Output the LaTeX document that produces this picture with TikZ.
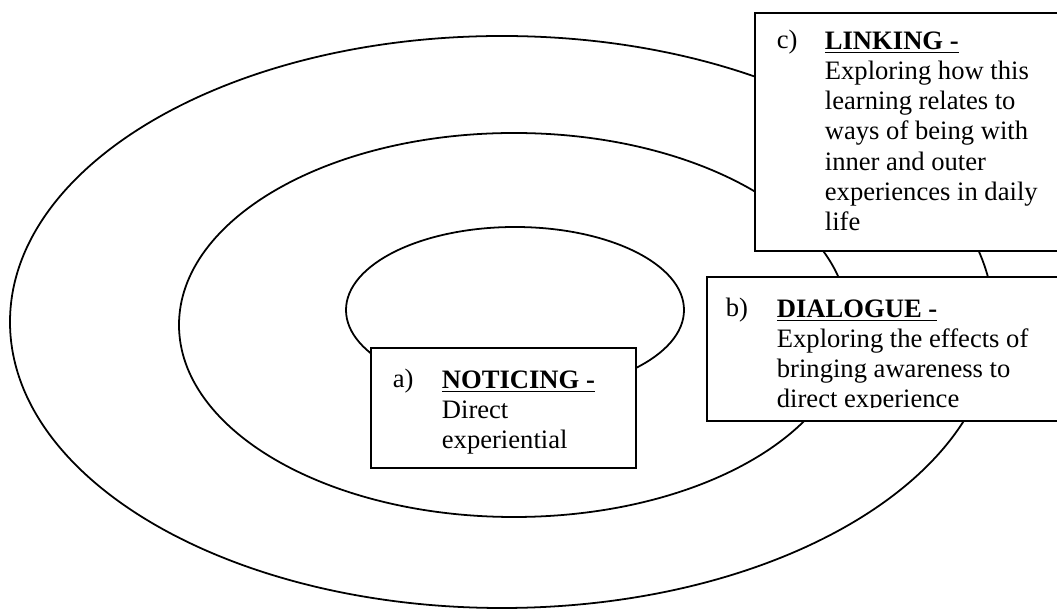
\documentclass[tikz,border=0pt]{standalone}
\usepackage{fontspec}
\setmainfont{Liberation Serif}
\usepackage{tikz}

\begin{document}
\begin{tikzpicture}[x=0.451pt,y=-0.451pt,line width=0.8pt]
\tikzstyle{every node}+=[inner sep=0pt,font=\fontsize{12}{13.6}\selectfont]
\clip (0,0) rectangle (1057,610);
\fill [white] (0,0) rectangle (1057,610);
\draw [black] (502,322) ellipse (492 and 286);
\draw [black] (514,325) ellipse (335 and 192);
\draw [black] (515,310) ellipse (169 and 83);
\draw [black,fill=white] (755,13) rectangle (1080,251);
\draw [black,fill=white] (707,277) rectangle (1080,421);
\draw [black,fill=white] (371,348) rectangle (636,468);
\draw (776,49) node [anchor=base west] (labc) {c)};
\draw (824,31) node [anchor=north west,align=left] (textc) {\underline{\textbf{LINKING -}}\\Exploring how this\\learning relates to\\ways of being with\\inner and outer\\experiences in daily\\life};
\begin{scope}
\clip (707,277) rectangle (1057,408);
\draw (725,317) node [anchor=base west] (labb) {b)};
\draw (776,299) node [anchor=north west,align=left] (textb) {\underline{\textbf{DIALOGUE -}}\\Exploring the effects of\\bringing awareness to\\direct experience};
\end{scope}
\draw (392,388) node [anchor=base west] (laba) {a)};
\draw (441,370) node [anchor=north west,align=left] (texta) {\underline{\textbf{NOTICING -}}\\Direct\\experiential};
\end{tikzpicture}
\end{document}
